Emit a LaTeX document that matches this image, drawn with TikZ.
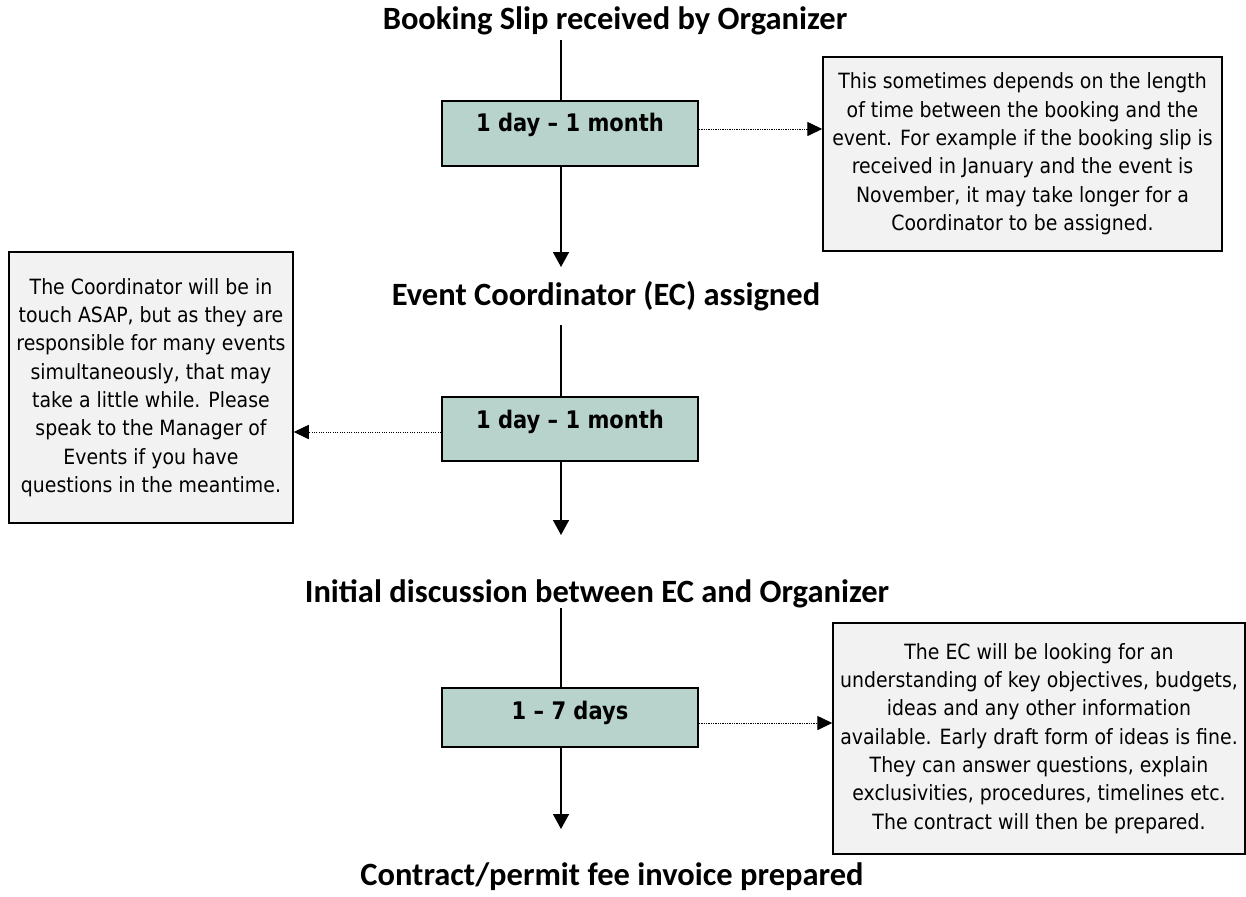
\documentclass[tikz,border=0pt]{standalone}
\usepackage{fontspec}
\setmainfont{Carlito}
\newfontfamily\notefont[FakeStretch=0.9]{DejaVu Sans}
\newfontfamily\timefont[FakeStretch=0.87]{DejaVu Sans}
\usepackage{tikz}
\usetikzlibrary{arrows.meta}

\definecolor{boxgreen}{RGB}{183,211,203}
\definecolor{notegray}{RGB}{242,242,242}

\begin{document}
\begin{tikzpicture}[x=0.6pt,y=-0.6pt,
    heading/.style={font=\fontsize{19.5}{23}\selectfont\bfseries},
    timebox/.style={draw, line width=1.2pt, fill=boxgreen, inner sep=0pt,
        minimum width=153.6pt},
    timetext/.style={font=\timefont\fontsize{14.5}{17}\selectfont\bfseries},
    notebox/.style={draw, line width=0.9pt, fill=notegray, inner sep=0pt,
        align=center, font=\notefont\fontsize{12.6}{17}\selectfont},
    flow/.style={line width=0.9pt, -{Triangle[width=9.6pt,length=9pt]}},
    aside/.style={line width=0.6pt, dash pattern=on 0.7pt off 0.7pt,
        -{Triangle[width=8.5pt,length=9pt]}}]

\useasboundingbox[fill=white] (0,0) rectangle (1246,896);

% stages
\node[heading] (h1) at (615,21)  {Booking Slip received by Organizer};
\node[heading] (h2) at (606,296) {Event Coordinator (EC) assigned};
\node[heading] (h3) at (597,594) {Initial discussion between EC and Organizer};
\node[heading] (h4) at (612,877) {Contract/permit fee invoice prepared};

% time boxes
\node[timebox, minimum height=39pt]   (box1) at (570,133.5) {};
\node[timebox, minimum height=38.4pt] (box2) at (570,429)   {};
\node[timebox, minimum height=35.4pt] (box3) at (570,717.5) {};

\node[timetext] (t1) at (570,125) {1 day \textendash{} 1 month};
\node[timetext] (t2) at (570,422) {1 day \textendash{} 1 month};
\node[timetext] (t3) at (570,713) {1 \textendash{} 7 days};

% notes
\node[notebox, minimum width=239.4pt, minimum height=116.4pt] (note1) at (1022.5,154)
    {This sometimes depends on the length\\
     of time between the booking and the\\
     event. For example if the booking slip is\\
     received in January and the event is\\
     November, it may take longer for a\\
     Coordinator to be assigned.};
\node[notebox, minimum width=170.4pt, minimum height=162.6pt] (note2) at (151,387.5)
    {The Coordinator will be in\\
     touch ASAP, but as they are\\
     responsible for many events\\
     simultaneously, that may\\
     take a little while. Please\\
     speak to the Manager of\\
     Events if you have\\
     questions in the meantime.};
\node[notebox, minimum width=247.2pt, minimum height=138.6pt] (note3) at (1039,738.5)
    {The EC will be looking for an\\
     understanding of key objectives, budgets,\\
     ideas and any other information\\
     available. Early draft form of ideas is fine.\\
     They can answer questions, explain\\
     exclusivities, procedures, timelines etc.\\
     The contract will then be prepared.};

% line ends
\coordinate (s1) at (561,40);
\coordinate (e1) at (561,267);
\coordinate (s2) at (561,325);
\coordinate (e2) at (561,535);
\coordinate (s3) at (561,608);
\coordinate (e3) at (561,829);

\draw[line width=0.9pt] (s1) -- (s1 |- box1.north);
\draw[flow] (s1 |- box1.south) -- (e1);
\draw[line width=0.9pt] (s2) -- (s2 |- box2.north);
\draw[flow] (s2 |- box2.south) -- (e2);
\draw[line width=0.9pt] (s3) -- (s3 |- box3.north);
\draw[flow] (s3 |- box3.south) -- (e3);

\draw[aside] ([yshift=2.7pt]box1.east) -- ([yshift=2.7pt]note1.west |- box1.east);
\draw[aside] ([yshift=-1.8pt]box2.west) -- ([yshift=-1.8pt]note2.east |- box2.west);
\draw[aside] ([yshift=-3.3pt]box3.east) -- ([yshift=-3.3pt]note3.west |- box3.east);

\end{tikzpicture}
\end{document}
